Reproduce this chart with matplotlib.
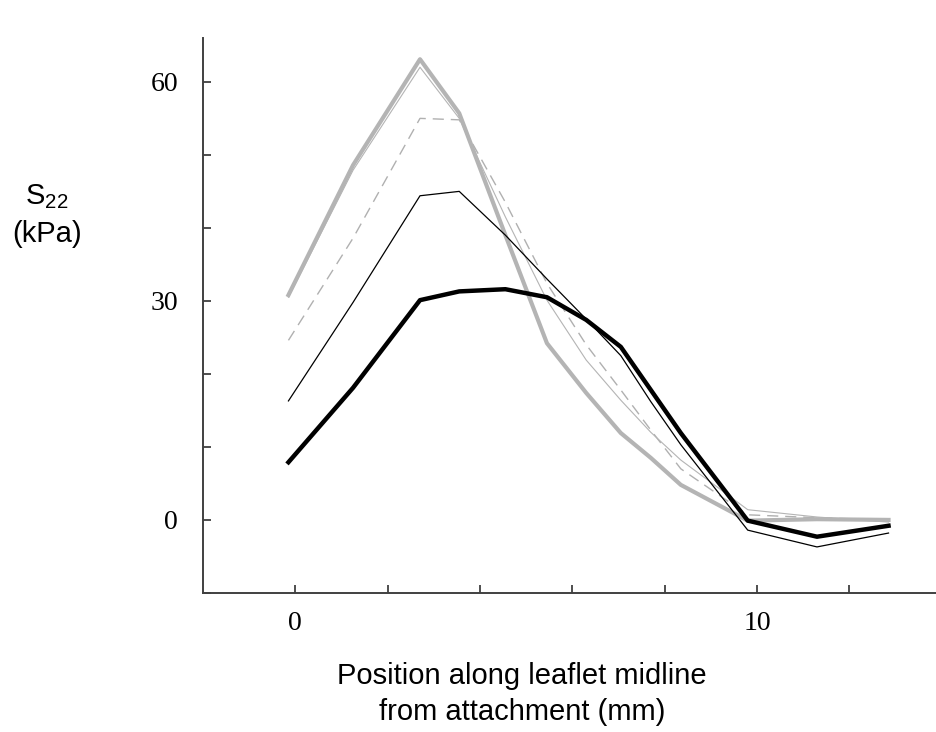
import matplotlib
matplotlib.use("Agg")
import matplotlib.pyplot as plt

# position along leaflet midline (mm), shared by all curves
pos = [-0.15, 1.25, 2.7, 3.55, 4.55, 5.45, 6.3, 7.05, 7.7, 8.35, 9.8, 11.3, 12.85]

# S22 (kPa) for each curve
s_gray_thick = [30.8, 48.6, 63.1, 55.7, 39.0, 24.2, 17.4, 11.9, 8.5, 4.8, -0.1, 0.1, 0.0]
s_gray_thin = [30.5, 47.9, 62.0, 55.0, 41.5, 30.1, 21.9, 16.4, 12.0, 8.2, 1.4, 0.4, -0.3]
s_gray_dash = [24.6, 38.6, 55.0, 54.8, 43.5, 32.4, 24.0, 17.8, 12.3, 7.0, 0.7, 0.3, 0.0]
s_black_thin = [16.3, 29.8, 44.4, 45.0, 39.0, 33.0, 27.5, 22.5, 16.2, 10.3, -1.4, -3.7, -1.8]
s_black_thick = [7.9, 18.1, 30.1, 31.3, 31.6, 30.5, 27.4, 23.7, 17.8, 11.9, -0.1, -2.3, -0.8]

yticks = [-10, 0, 10, 20, 30, 40, 50, 60]
ytick_labels = ['', '0', '', '', '30', '', '', '60']
xticks = [0, 2, 4, 6, 8, 10, 12]
xtick_labels = ['0', '', '', '', '', '10', '']

fig = plt.figure(figsize=(9.37, 7.32), dpi=100)
ax = fig.add_axes([0.2167, 0.19, 0.7833, 0.758])

ax.plot(pos, s_gray_dash, color='#b0b0b0', lw=1.0, dashes=(8, 5))
ax.plot(pos, s_gray_thin, color='#b4b4b4', lw=0.8)
ax.plot(pos, s_gray_thick, color='#b4b4b4', lw=3.0)
ax.plot(pos, s_black_thin, color='black', lw=0.9)
ax.plot(pos, s_black_thick, color='black', lw=3.2)

for s in ['top', 'right']:
    ax.spines[s].set_visible(False)
for s in ['left', 'bottom']:
    ax.spines[s].set_color('#404040')
    ax.spines[s].set_linewidth(1.4)

ax.set_yticks(yticks)
ax.set_yticklabels(ytick_labels)
ax.set_xticks(xticks)
ax.set_xticklabels(xtick_labels)
ax.set_xlim(-2, 13.9)
ax.set_ylim(-10, 66)

ax.tick_params(direction='in', length=5.5, width=1.3, color='#404040')
ax.tick_params(axis='y', pad=18)
ax.tick_params(axis='x', pad=13)
for lab in ax.get_xticklabels() + ax.get_yticklabels():
    lab.set_fontfamily('Liberation Serif')
    lab.set_fontsize(20)

fig.text(47 / 937, 1 - 197 / 732, r'$\mathregular{S_{22}}$', ha='center', va='center',
         fontsize=21, family='Liberation Sans')
fig.text(47 / 937, 1 - 234 / 732, '(kPa)', ha='center', va='center',
         fontsize=21, family='Liberation Sans')
fig.text(522 / 937, 1 - 694 / 732, 'Position along leaflet midline\nfrom attachment (mm)',
         ha='center', va='center', fontsize=21, family='Liberation Sans', linespacing=1.35)

fig.savefig('out.png', dpi=100)
